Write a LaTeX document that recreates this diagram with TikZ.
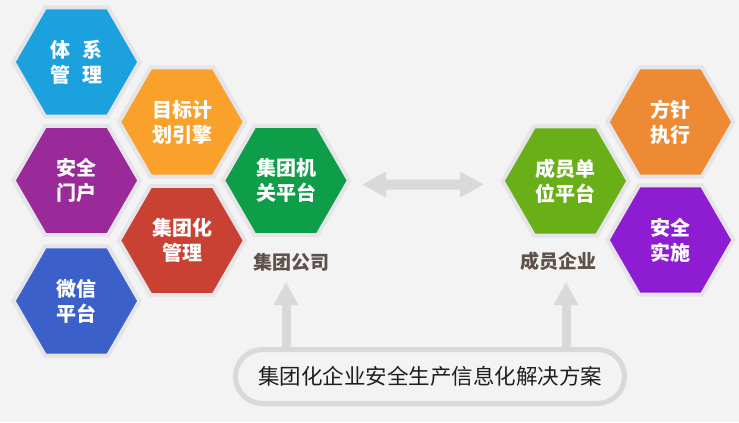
\documentclass[tikz,border=0pt]{standalone}
\usepackage{fontspec}
\setmainfont{Noto Sans CJK SC}
\usetikzlibrary{shapes.geometric,arrows.meta}
\definecolor{bg}{HTML}{F3F3F3}
\definecolor{halo}{HTML}{E4E4E9}
\definecolor{arrowgray}{HTML}{D9D9D9}
\definecolor{cblue}{HTML}{1BA1DD}
\definecolor{cpurple}{HTML}{9A2A9A}
\definecolor{cindigo}{HTML}{3B60C9}
\definecolor{corange}{HTML}{F9A12B}
\definecolor{cred}{HTML}{C94133}
\definecolor{cgreen}{HTML}{0E9D48}
\definecolor{clime}{HTML}{69B018}
\definecolor{corange2}{HTML}{EE8A33}
\definecolor{cviolet}{HTML}{8E1CD3}
\definecolor{lbl}{HTML}{5D5149}
\tikzset{
  hexa/.style={regular polygon, regular polygon sides=6, minimum size=126bp,
    inner sep=0pt, outer sep=0pt, draw=halo, line width=4bp, fill=#1,
    text=white, font=\fontsize{20bp}{25bp}\selectfont\bfseries, align=center},
  grouplabel/.style={text=lbl, font=\fontsize{19bp}{22bp}\selectfont\bfseries, inner sep=0pt},
  bigarrow/.style={draw=arrowgray, line width=10bp},
  uparrow/.style={draw=arrowgray, line width=9bp, -{Triangle[length=23bp,width=23bp]}},
  pill/.style={draw=arrowgray, line width=5bp, fill=bg, rounded corners=27bp,
    minimum width=389bp, minimum height=54bp, inner sep=0pt,
    font=\fontsize{21.5bp}{24bp}\selectfont, text=black!88}
}
\begin{document}
\begin{tikzpicture}[x=1bp,y=-1bp]
\fill[bg] (0,0) rectangle (739,422);
\useasboundingbox (0,0) rectangle (739,422);
% left cluster
\node[hexa=cblue]   (hA) at (76.5,62)   {体\hspace{12bp}系\\管\hspace{12bp}理};
\node[hexa=cpurple] (hB) at (76.5,180.5) {安全\\门户};
\node[hexa=cindigo] (hC) at (76.5,301)  {微信\\平台};
\node[hexa=corange] (hD) at (182,122)   {目标计\\划引擎};
\node[hexa=cred]    (hE) at (182,240.5) {集团化\\管理};
\node[hexa=cgreen]  (hF) at (286,180.5) {集团机\\关平台};
% right cluster
\node[hexa=clime]    (hG) at (565.5,181) {成员单\\位平台};
\node[hexa=corange2] (hH) at (670.5,122) {方针\\执行};
\node[hexa=cviolet]  (hI) at (670.5,240) {安全\\实施};
% labels
\node[grouplabel] (lA) at (291,262) {集团公司};
\node[grouplabel] (lB) at (558,261) {成员企业};
% bottom pill
\node[pill] (sol) at (430,376.5) {集团化企业安全生产信息化解决方案};
% double arrow
\draw[bigarrow, {Triangle[length=24bp,width=24bp]}-{Triangle[length=24bp,width=24bp]},
  shorten <=13bp, shorten >=18.5bp]
  ([yshift=-4bp]hF.east) -- ([yshift=-3.5bp]hG.west);
% up arrows
\coordinate (tA) at (286,282);
\coordinate (tB) at (566,282);
\draw[uparrow] (tA |- sol.north) -- (tA);
\draw[uparrow] (tB |- sol.north) -- (tB);
\end{tikzpicture}
\end{document}
